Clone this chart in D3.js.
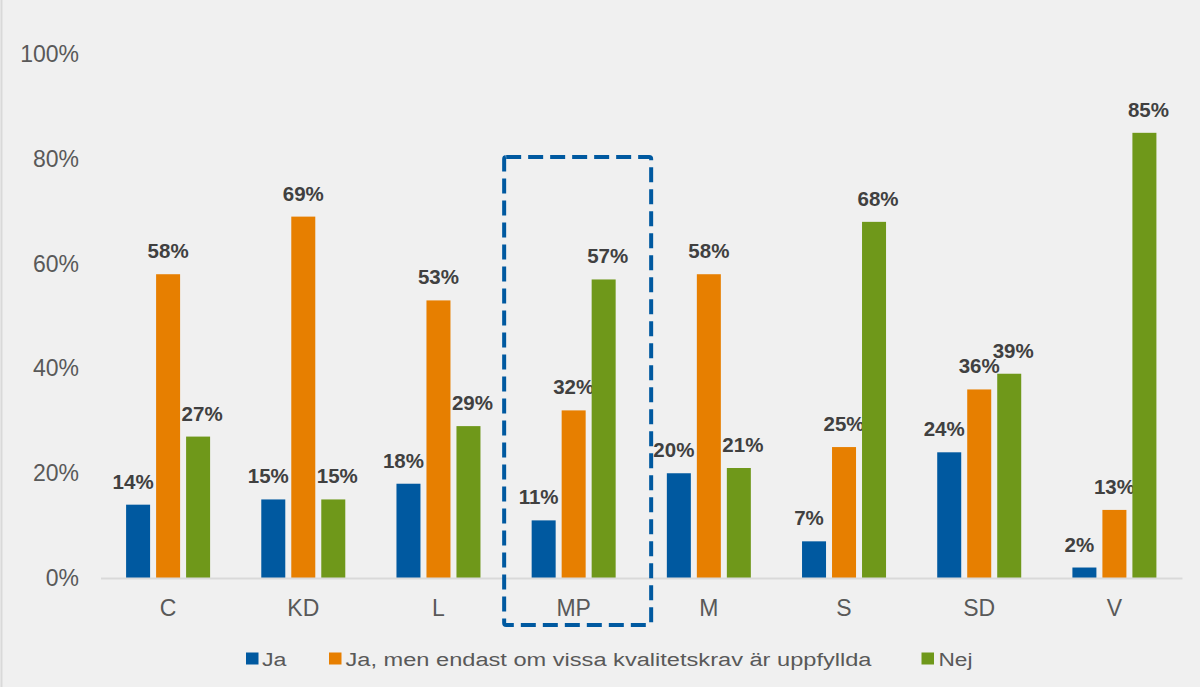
<!DOCTYPE html>
<html><head><meta charset="utf-8">
<script src="https://cdn.jsdelivr.net/npm/d3@7"></script>
<style>
html,body{margin:0;padding:0;background:#f0f0f0;}
svg{display:block;font-family:"Liberation Sans",Arial,sans-serif;}
</style></head>
<body>
<svg id="chart" width="1200" height="687"></svg>
<script>
const categories = ["C","KD","L","MP","M","S","SD","V"];
const seriesNames = ["Ja","Ja, men endast om vissa kvalitetskrav är uppfyllda","Nej"];
const jaValues = [14,15,18,11,20,7,24,2];
const jaMenValues = [58,69,53,32,58,25,36,13];
const nejValues = [27,15,29,57,21,68,39,85];
const yTicks = [0,20,40,60,80,100];
const colors = ["#0059a0","#e77f00","#6f981a"];
const highlight = "MP";

const series = [jaValues, jaMenValues, nejValues];
const svg = d3.select("#chart");
svg.append("rect").attr("width",1200).attr("height",687).attr("fill","#f0f0f0");
svg.append("line").attr("x1",1.5).attr("x2",1.5).attr("y1",0).attr("y2",687)
  .attr("stroke","#d9d9d9").attr("stroke-width",2);

const x = d3.scaleBand().domain(categories).range([100.5,1182]).padding(0);
const inner = d3.scaleBand().domain([0,1,2]).range([-42,42]).paddingInner(0.2).paddingOuter(0);
const y = d3.scaleLinear().domain([0,100]).range([578,54.25]);
const labelShift = [-5,0,4];

// y axis labels
const yAxis = d3.axisLeft(y).tickValues(yTicks).tickFormat(d=>d+"%").tickSize(0).tickPadding(0);
const yg = svg.append("g").attr("transform","translate(79,0)").call(yAxis);
yg.select(".domain").remove();
yg.selectAll("text").attr("font-size",23).attr("fill","#595959")
  .attr("font-family","Liberation Sans, Arial, sans-serif");

// bars
categories.forEach((c,i)=>{
  const cx = x(c)+x.bandwidth()/2;
  series.forEach((s,k)=>{
    const v = s[i];
    svg.append("rect")
      .attr("x",cx+inner(k)).attr("width",inner.bandwidth())
      .attr("y",y(v)).attr("height",y(0)-y(v))
      .attr("fill",colors[k]);
    svg.append("text")
      .attr("x",cx+inner(k)+inner.bandwidth()/2 + labelShift[k])
      .attr("y",y(v)-16)
      .attr("text-anchor","middle")
      .attr("font-size",20.5).attr("font-weight","bold").attr("fill","#404040")
      .text(v+"%");
  });
});

// x axis
const xAxis = d3.axisBottom(x).tickSize(0).tickPadding(22);
const xg = svg.append("g").attr("transform","translate(0,578)").call(xAxis);
xg.select(".domain").attr("stroke","#d9d9d9").attr("stroke-width",2);
xg.selectAll("text").attr("font-size",23).attr("fill","#595959")
  .attr("font-family","Liberation Sans, Arial, sans-serif");

// highlight box
const hx = x(highlight);
svg.append("rect")
  .attr("x",hx+x.bandwidth()/2-69.5).attr("y",157)
  .attr("width",147).attr("height",468)
  .attr("rx",2)
  .attr("fill","none").attr("stroke","#0059a0").attr("stroke-width",4)
  .attr("stroke-dasharray","15,7");

// legend
const legendItems = [
  {sx:246, tx:262, w:24.5},
  {sx:329, tx:345.5, w:526},
  {sx:921.5, tx:938.5, w:34}
];
const lg = svg.append("g");
seriesNames.forEach((n,k)=>{
  const it = legendItems[k];
  lg.append("rect").attr("x",it.sx).attr("y",652.5).attr("width",12.5).attr("height",12).attr("fill",colors[k]);
  lg.append("text").attr("x",it.tx).attr("y",666)
    .attr("font-size",18.8).attr("fill","#595959")
    .attr("textLength",it.w).attr("lengthAdjust","spacingAndGlyphs")
    .text(n);
});
</script>
</body></html>
